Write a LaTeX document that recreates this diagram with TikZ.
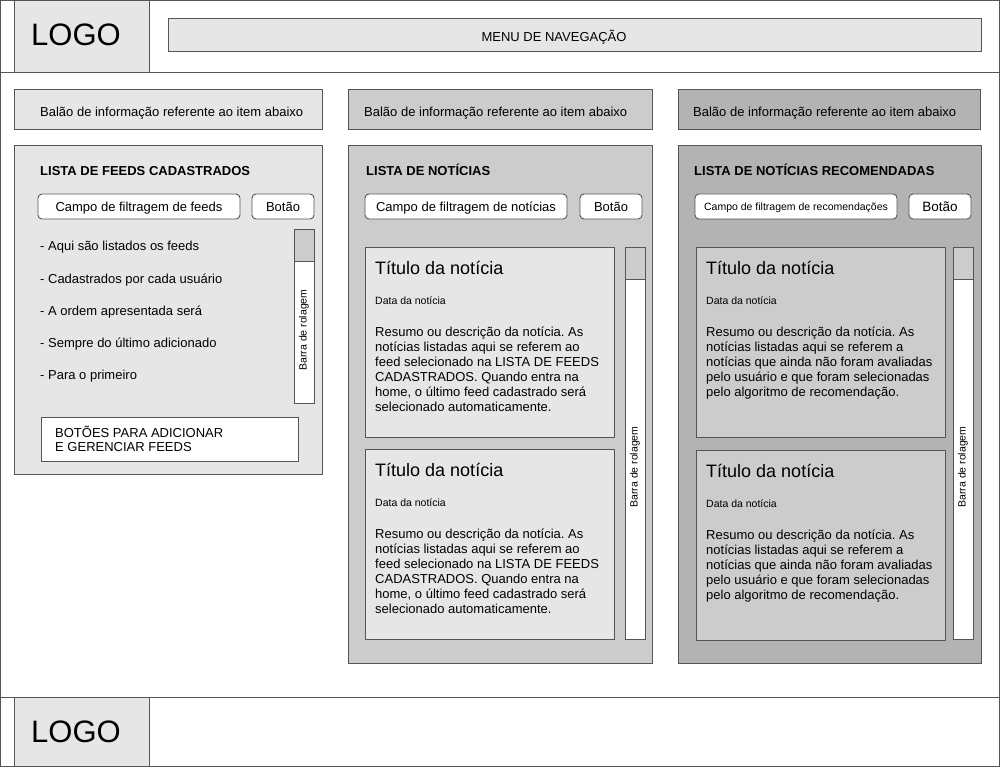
\documentclass[tikz,border=0pt]{standalone}
\usepackage{fontspec}
\setmainfont{Liberation Sans}
\frenchspacing
\definecolor{gA}{HTML}{E6E6E6}
\definecolor{gB}{HTML}{CCCCCC}
\definecolor{gC}{HTML}{B3B3B3}
\definecolor{edge}{HTML}{555555}
\newcommand{\fsz}[2]{\fontsize{#1}{#2}\selectfont}
\begin{document}
\begin{tikzpicture}[x=1pt,y=-1pt,
  box/.style={draw=edge,line width=1pt},
  field/.style={draw=edge,line width=0.9pt,fill=white,rounded corners=4pt},
  txt/.style={anchor=base west,inner sep=0pt,font=\fsz{13}{15}},
  ctxt/.style={anchor=base,inner sep=0pt,font=\fsz{13}{15}},
  ttl/.style={anchor=base west,inner sep=0pt,font=\fsz{13}{15}\bfseries},
  logo/.style={anchor=base west,inner sep=0pt,font=\fsz{31}{36}},
  ntitle/.style={anchor=base west,inner sep=0pt,font=\fsz{18}{20}},
  ndate/.style={anchor=base west,inner sep=0pt,font=\fsz{10.5}{12}},
  nbody/.style={anchor=north west,inner sep=0pt,align=left,font=\fsz{13}{15}},
  roll/.style={inner sep=0pt,rotate=90,font=\fsz{10.5}{12}}]
\useasboundingbox (0,0) rectangle (1000,767);
% frame
\draw[box,fill=white] (0.6,0.6) rectangle (999.4,766.4);
% header
\draw[box] (0.6,73) -- (999.4,73);
\draw[box,fill=gA] (14,0.6) rectangle (149,73);
\node[logo] (logoT) at (31,45.5) {LOGO};
\draw[box,fill=gA] (168,19) rectangle (981,52);
\node[ctxt] (menu) at (554,41.5) {MENU DE NAVEGAÇÃO};
% footer
\draw[box] (0.6,697) -- (999.4,697);
\draw[box,fill=gA] (14,697) rectangle (149,766.4);
\node[logo] (logoB) at (31,742) {LOGO};

% ---------- column 1
\draw[box,fill=gA] (14,90) rectangle (322,130);
\node[txt] (bal1) at (40,116.5) {Balão de informação referente ao item abaixo};
\draw[box,fill=gA] (14,146) rectangle (322,474);
\node[ttl] (t1) at (40,176) {LISTA DE FEEDS CADASTRADOS};
\draw[field] (38,194) rectangle (240,219);
\node[ctxt] (f1) at (139,212) {Campo de filtragem de feeds};
\draw[field] (252,194) rectangle (314,219);
\node[ctxt] (b1) at (283,212) {Botão};
\node[txt] (l1) at (40,251) {- Aqui são listados os feeds};
\node[txt] (l2) at (40,283) {- Cadastrados por cada usuário};
\node[txt] (l3) at (40,315) {- A ordem apresentada será};
\node[txt] (l4) at (40,347) {- Sempre do último adicionado};
\node[txt] (l5) at (40,379) {- Para o primeiro};
\draw[box,line width=0.9pt,fill=white] (294,229) rectangle (314,403);
\draw[box,line width=0.9pt,fill=gB] (294,229) rectangle (314,261);
\node[roll] (r1) at (304,330) {Barra de rolagem};
\draw[box,line width=0.9pt,fill=white] (41,417) rectangle (298,461);
\node[nbody,font=\fsz{13}{14}] (bt) at (55,426) {BOTÕES PARA ADICIONAR\\E GERENCIAR FEEDS};

% ---------- column 2
\draw[box,fill=gB] (348,90) rectangle (652,130);
\node[txt] (bal2) at (364,116.5) {Balão de informação referente ao item abaixo};
\draw[box,fill=gB] (348,146) rectangle (652,663);
\node[ttl] (t2) at (366,176) {LISTA DE NOTÍCIAS};
\draw[field] (365,194) rectangle (567,219);
\node[ctxt] (f2) at (466,212) {Campo de filtragem de notícias};
\draw[field] (580,194) rectangle (642,219);
\node[ctxt] (b2) at (611,212) {Botão};
\foreach \o/\n in {0/a,202/b}{
  \draw[box,line width=0.9pt,fill=gA] (365,247+\o) rectangle (614,437+\o);
  \node[ntitle] (n2t\n) at (375,274.5+\o) {Título da notícia};
  \node[ndate] (n2d\n) at (375,304+\o) {Data da notícia};
  \node[nbody] (n2b\n) at (375,326.5+\o) {Resumo ou descrição da notícia. As\\notícias listadas aqui se referem ao\\feed selecionado na LISTA DE FEEDS\\CADASTRADOS. Quando entra na\\home, o último feed cadastrado será\\selecionado automaticamente.};
}
\draw[box,line width=0.9pt,fill=white] (625,247) rectangle (645,639);
\draw[box,line width=0.9pt,fill=gB] (625,247) rectangle (645,279);
\node[roll] (r2) at (635,467) {Barra de rolagem};

% ---------- column 3
\draw[box,fill=gC] (678,90) rectangle (980,130);
\node[txt] (bal3) at (693,116.5) {Balão de informação referente ao item abaixo};
\draw[box,fill=gC] (678,146) rectangle (981,663);
\node[ttl] (t3) at (694,176) {LISTA DE NOTÍCIAS RECOMENDADAS};
\draw[field] (695,194) rectangle (897,219);
\node[anchor=base,inner sep=0pt,font=\fsz{10.5}{12}] (f3) at (796,211) {Campo de filtragem de recomendações};
\draw[field] (909,194) rectangle (971,219);
\node[anchor=base,inner sep=0pt,font=\fsz{13.5}{15}] (b3) at (940,212) {Botão};
\foreach \o/\n in {0/a,203/b}{
  \draw[box,line width=0.9pt,fill=gB] (696,247+\o) rectangle (945,437+\o);
  \node[ntitle] (n3t\n) at (706,274.5+\o) {Título da notícia};
  \node[ndate] (n3d\n) at (706,304+\o) {Data da notícia};
  \node[nbody] (n3b\n) at (706,326.5+\o) {Resumo ou descrição da notícia. As\\notícias listadas aqui se referem a\\notícias que ainda não foram avaliadas\\pelo usuário e que foram selecionadas\\pelo algoritmo de recomendação.};
}
\draw[box,line width=0.9pt,fill=white] (953,247) rectangle (973,639);
\draw[box,line width=0.9pt,fill=gB] (953,247) rectangle (973,279);
\node[roll] (r3) at (963,467) {Barra de rolagem};
\end{tikzpicture}
\end{document}
